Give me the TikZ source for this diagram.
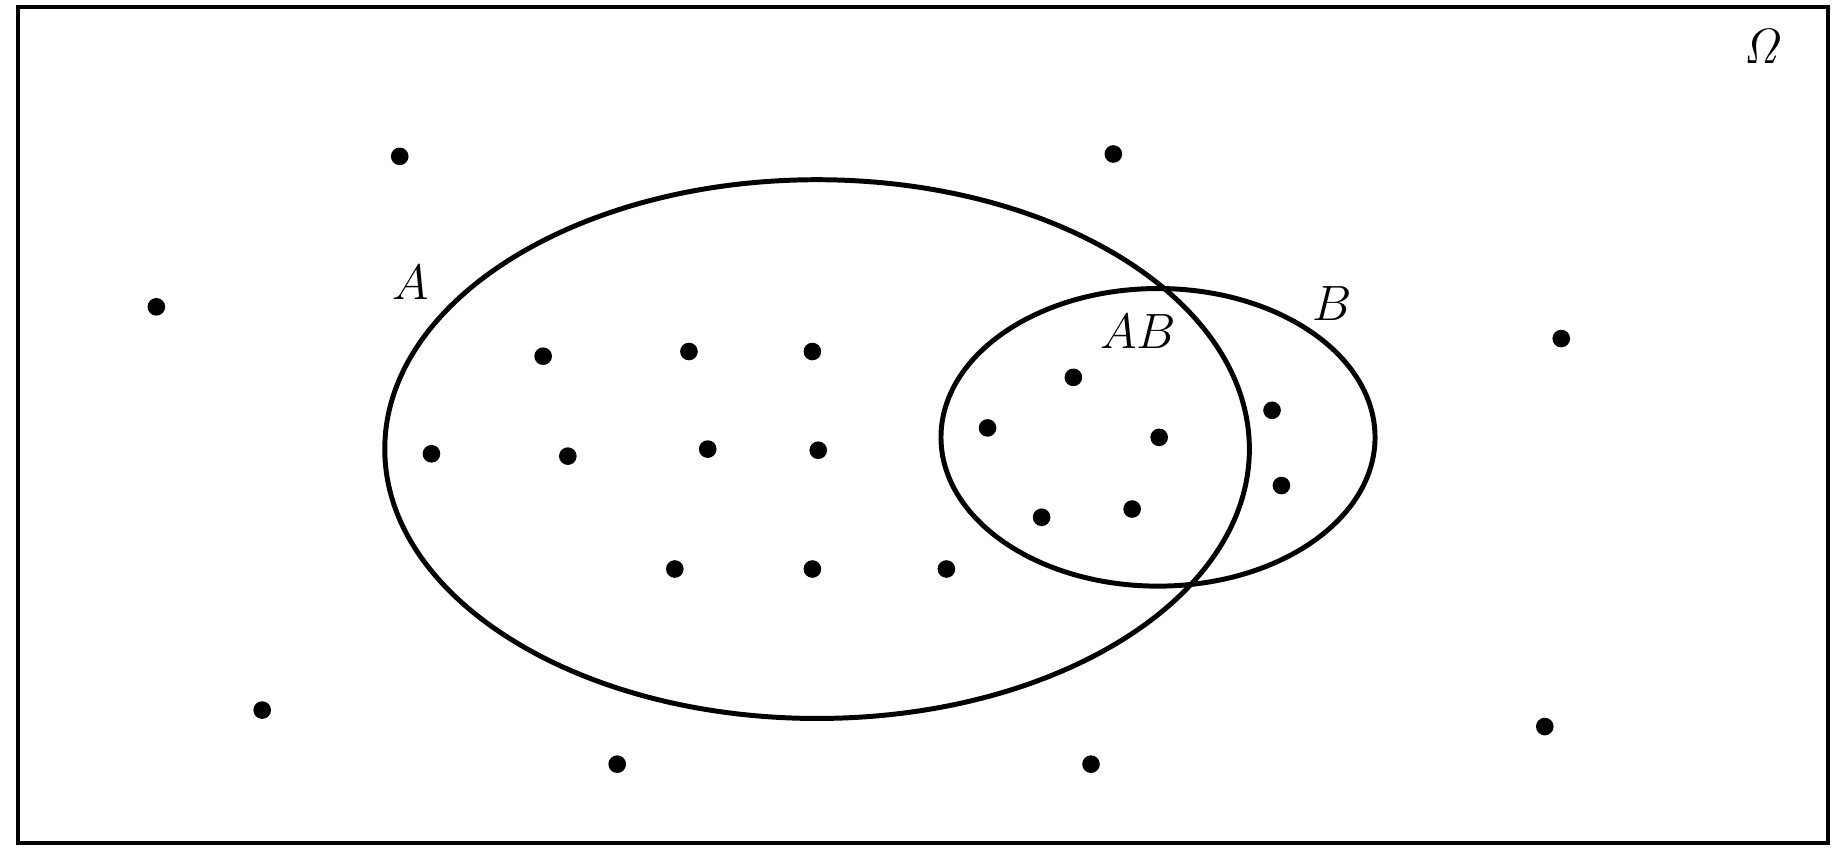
\documentclass[tikz,border=0pt]{standalone}
\usepackage{amsmath}
\usepackage{amssymb}
\usepackage{tikz}
\usetikzlibrary{calc}

\begin{document}
\begin{tikzpicture}[x=0.01cm,y=-0.01cm,line width=1.1pt]
  \tikzstyle{dot}=[circle,fill=black,draw=none,inner sep=0pt,minimum size=1.5mm]
  \tikzstyle{set}=[draw=black,line width=1.2pt]
  \tikzstyle{lab}=[inner sep=0pt,font=\large]

  \useasboundingbox (0,0) rectangle (1560,728);
  \draw[line width=1pt] (15,6) rectangle (1555,717);
  \node[lab] (Om) at (1500,40) {$\mathit{\Omega}$};

  % the two events
  \draw[set] (695,382) ellipse [x radius=3.675cm, y radius=2.29cm];
  \draw[set] (985,372) ellipse [x radius=1.845cm, y radius=1.265cm];
  \node[lab] (A)  at (349,240) {$A$};
  \node[lab] (B)  at (1133,258) {$B$};
  \node[lab] (AB) at (968,282) {$AB$};

  % sample points
  \foreach \x/\y [count=\i] in {340/133, 947/131, 133/261, 1328/288,
      462/303, 586/299, 691/299, 913/321, 1082/349, 840/364, 986/372,
      367/386, 483/388, 602/382, 696/383, 1090/413, 886/440, 963/433,
      574/484, 691/484, 805/484, 223/604, 1314/618, 525/650, 928/650}
    \node[dot] (p\i) at (\x,\y) {};
\end{tikzpicture}
\end{document}
